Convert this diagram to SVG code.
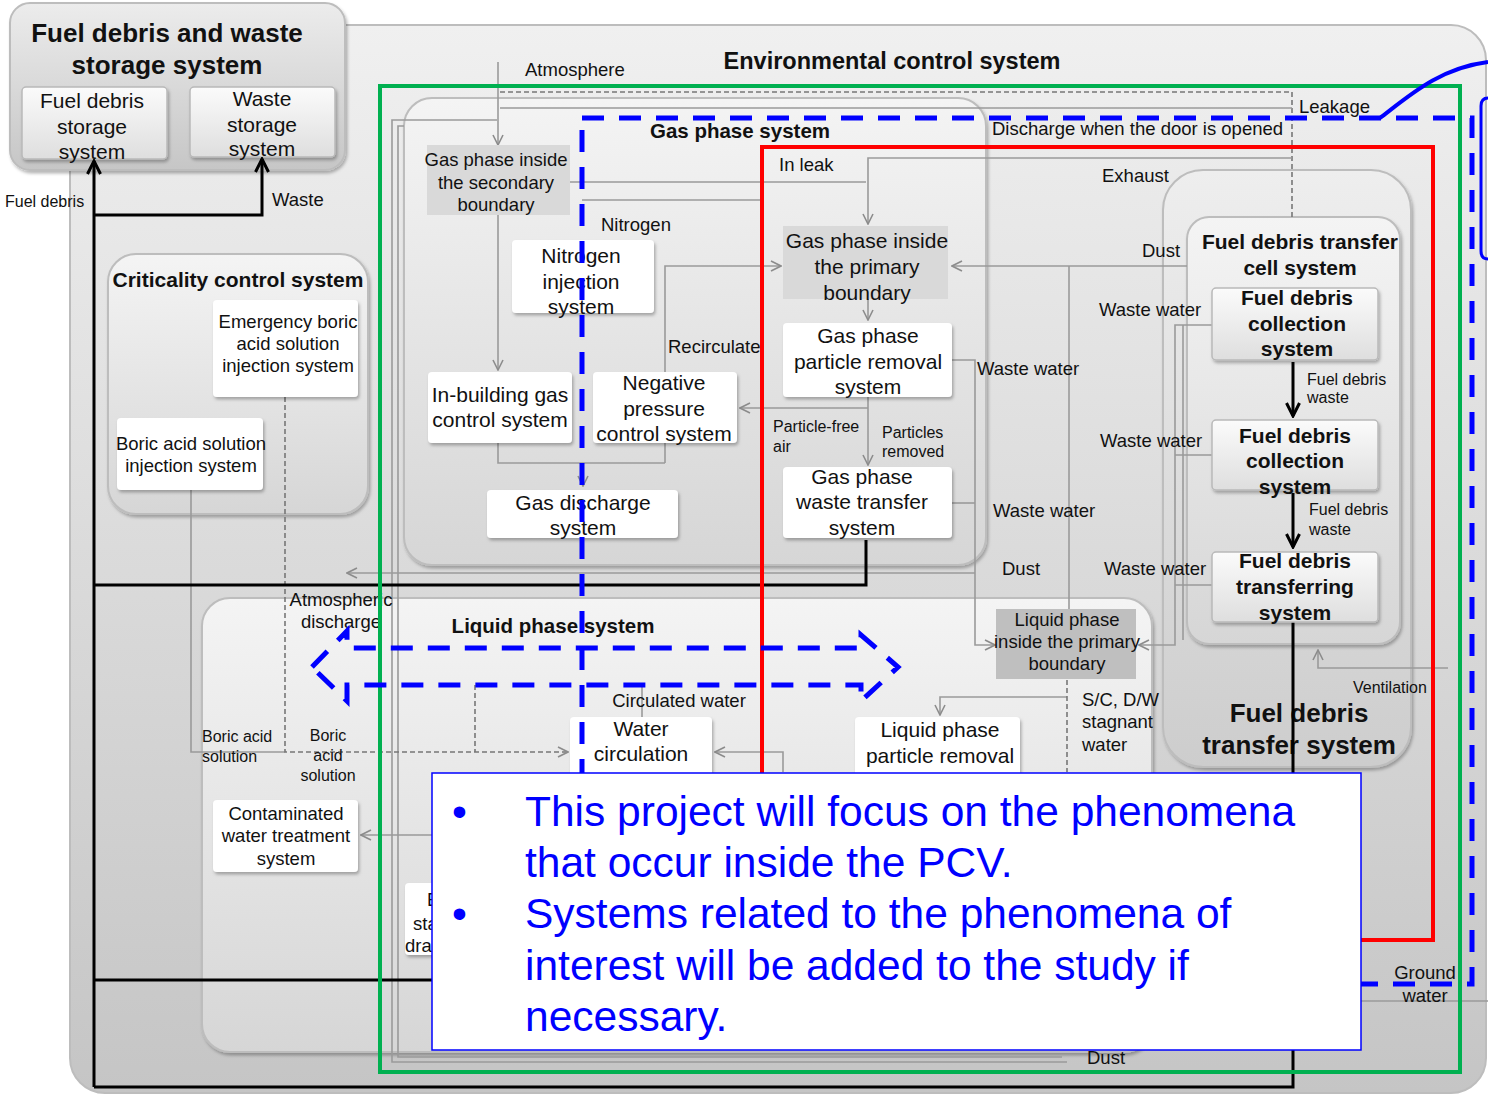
<svg xmlns="http://www.w3.org/2000/svg" width="1488" height="1095" viewBox="0 0 1488 1095">
  <defs>
    <linearGradient id="gEnv" x1="0" y1="0" x2="0" y2="1">
      <stop offset="0" stop-color="#f0f0f0"/>
      <stop offset="1" stop-color="#c5c5c5"/>
    </linearGradient>
    <linearGradient id="gPanel" x1="0" y1="0" x2="0" y2="1">
      <stop offset="0" stop-color="#f4f4f4"/>
      <stop offset="1" stop-color="#d6d6d6"/>
    </linearGradient>
    <linearGradient id="gStore" x1="0" y1="0" x2="0" y2="1">
      <stop offset="0" stop-color="#ececec"/>
      <stop offset="1" stop-color="#c6c6c6"/>
    </linearGradient>
    <linearGradient id="gTransfer" x1="0" y1="0" x2="0" y2="1">
      <stop offset="0" stop-color="#eeeeee"/>
      <stop offset="1" stop-color="#cdcdcd"/>
    </linearGradient>
    <linearGradient id="gSub" x1="0" y1="0" x2="0" y2="1">
      <stop offset="0" stop-color="#fbfbfb"/>
      <stop offset="1" stop-color="#dedede"/>
    </linearGradient>
    <filter id="shadow" x="-10%" y="-10%" width="125%" height="130%">
      <feDropShadow dx="1.5" dy="2.5" stdDeviation="1.8" flood-color="#000" flood-opacity="0.28"/>
    </filter>
    <marker id="ag" viewBox="0 0 12 12" refX="11" refY="6" markerWidth="12" markerHeight="12" markerUnits="userSpaceOnUse" orient="auto">
      <path d="M1,1 L11,6 L1,11" fill="none" stroke="#8c8c8c" stroke-width="1.6"/>
    </marker>
    <marker id="ak" viewBox="0 0 16 16" refX="14" refY="8" markerWidth="16" markerHeight="16" markerUnits="userSpaceOnUse" orient="auto">
      <path d="M1,1.5 L14,8 L1,14.5" fill="none" stroke="#000" stroke-width="3"/>
    </marker>
    <style>
      text { font-family: "Liberation Sans", Arial, sans-serif; fill: #111; }
      .m { text-anchor: middle; }
      .s16 { font-size: 16px; }
      .s18 { font-size: 18.5px; }
      .s21 { font-size: 21px; }
      .b20 { font-size: 20.5px; font-weight: bold; }
      .b21 { font-size: 21px; font-weight: bold; }
      .b23 { font-size: 23.5px; font-weight: bold; }
      .b26 { font-size: 26px; font-weight: bold; }
      .panel { stroke: #bdbdbd; stroke-width: 2; filter: url(#shadow); }
      .node { fill: #ffffff; filter: url(#shadow); }
      .sub { fill: url(#gSub); stroke: #b9b9b9; stroke-width: 1.5; filter: url(#shadow); }
      .grey { fill: #d9d9d9; }
      .ln { fill: none; stroke: #9a9a9a; stroke-width: 1.6; }
      .dl { fill: none; stroke: #777; stroke-width: 1.6; stroke-dasharray: 5 3; }
      .bk { fill: none; stroke: #000; stroke-width: 3; }
      .blue { fill: none; stroke: #0000ff; stroke-width: 5; stroke-dasharray: 22 15; }
      .note { font-size: 42.5px; fill: #0000ff; }
    </style>
  </defs>

  <!-- environmental control system area -->
  <g id="environmental-control-system">
    <rect x="70" y="25" width="1416" height="1068" rx="35" fill="url(#gEnv)" stroke="#bdbdbd" stroke-width="2"/>
    <text class="b23 m" x="892" y="69">Environmental control system</text>
  </g>

  <!-- storage system panel -->
  <g id="fuel-debris-and-waste-storage-system">
    <rect class="panel" x="10" y="3" width="335" height="167" rx="20" fill="url(#gStore)"/>
    <text class="b26 m" x="167" y="42">Fuel debris and waste</text>
    <text class="b26 m" x="167" y="74">storage system</text>
  </g>
  <g id="fuel-debris-storage-system">
    <rect class="sub" x="22" y="87" width="145" height="72" rx="4"/>
    <text class="s21 m" x="92" y="108">Fuel debris</text>
    <text class="s21 m" x="92" y="134">storage</text>
    <text class="s21 m" x="92" y="159">system</text>
  </g>
  <g id="waste-storage-system">
    <rect class="sub" x="190" y="87" width="145" height="70" rx="4"/>
    <text class="s21 m" x="262" y="106">Waste</text>
    <text class="s21 m" x="262" y="132">storage</text>
    <text class="s21 m" x="262" y="156">system</text>
  </g>

  <!-- enclosing panels -->
  <g id="gas-phase-system">
    <rect class="panel" x="404" y="98" width="582" height="467" rx="28" fill="url(#gPanel)"/>
    <text class="b20 m" x="740" y="138">Gas phase system</text>
  </g>
  <g id="liquid-phase-system">
    <rect class="panel" x="202" y="598" width="950" height="454" rx="28" fill="url(#gPanel)"/>
    <text class="b20 m" x="553" y="633">Liquid phase system</text>
  </g>
  <g id="criticality-control-system">
    <rect class="panel" x="108" y="254" width="260" height="260" rx="28" fill="url(#gPanel)"/>
    <text class="b21 m" x="238" y="287">Criticality control system</text>
  </g>
  <g id="fuel-debris-transfer-system">
    <rect class="panel" x="1163" y="170" width="248" height="597" rx="40" fill="url(#gTransfer)"/>
    <text class="b26 m" x="1299" y="722">Fuel debris</text>
    <text class="b26 m" x="1299" y="754">transfer system</text>
  </g>
  <g id="fuel-debris-transfer-cell-system">
    <rect class="panel" x="1187" y="217" width="213" height="427" rx="22" fill="url(#gPanel)"/>
    <text class="b21 m" x="1300" y="249">Fuel debris transfer</text>
    <text class="b21 m" x="1300" y="275">cell system</text>
  </g>

  <!-- connectors -->
  <g id="connectors">
    <!-- thin grey flows -->
    <path class="ln" d="M498,62 V145" marker-end="url(#ag)"/>
    <path class="dl" d="M500,92 H1292 V217"/>
    <path class="ln" d="M500,108 H1292"/>
    <path class="ln" d="M497,120 H392 V1062 H1067"/>
    <path class="ln" d="M404,126 H398 V1057 H1062"/>
    <path class="ln" d="M1292,158 H868 V224" marker-end="url(#ag)"/>
    <path class="ln" d="M570,182 H866"/>
    <path class="ln" d="M582,200 H760"/>
    <path class="ln" d="M498,215 V370" marker-end="url(#ag)"/>
    <path class="ln" d="M665,463 V266 H781" marker-end="url(#ag)"/>
    <path class="ln" d="M498,443 V463 H665"/>
    <path class="ln" d="M583,463 V486" marker-end="url(#ag)"/>
    <path class="ln" d="M868,299 V320" marker-end="url(#ag)"/>
    <path class="ln" d="M868,397 V465" marker-end="url(#ag)"/>
    <path class="ln" d="M868,408 H740" marker-end="url(#ag)"/>
    <path class="ln" d="M1187,266 H952" marker-end="url(#ag)"/>
    <path class="ln" d="M1069,266 V645"/>
    <path class="ln" d="M951,360 H975 V645 H995" marker-end="url(#ag)"/>
    <path class="ln" d="M951,503 H975"/>
    <path class="ln" d="M975,573 H347" marker-end="url(#ag)"/>
    <path class="ln" d="M1212,325 H1175 V645 H1139" marker-end="url(#ag)"/>
    <path class="ln" d="M1212,455 H1175"/>
    <path class="ln" d="M1212,585 H1175"/>
    <path class="ln" d="M1183,325 V640"/>
    <path class="ln" d="M1448,668 H1318 V650" marker-end="url(#ag)"/>
    <path class="ln" d="M1067,697 H940 V715" marker-end="url(#ag)"/>
    <path class="dl" d="M1067,680 V772"/>
    <path class="ln" d="M783,772 V752 H715" marker-end="url(#ag)"/>
    <path class="ln" d="M642,685 V717"/>
    <path class="ln" d="M191,490 V752 H285"/>
    <path class="dl" d="M285,397 V752 H568" marker-end="url(#ag)"/>
    <path class="dl" d="M475,685 V752"/>
    <path class="ln" d="M432,835 H361" marker-end="url(#ag)"/>
    <path class="ln" d="M1360,1001 H1488"/>

    <!-- solid black fuel debris / waste routes -->
    <path class="bk" d="M94,1087 V161" marker-end="url(#ak)"/>
    <path class="bk" d="M94,215 H262 V159" marker-end="url(#ak)"/>
    <path class="bk" d="M94,585 H866 V540"/>
    <path class="bk" d="M94,980 H434"/>
    <path class="bk" d="M1293,622 V1087 H94"/>
    <path class="bk" d="M1293,362 V416" marker-end="url(#ak)"/>
    <path class="bk" d="M1293,493 V547" marker-end="url(#ak)"/>
  </g>

  <!-- gas phase nodes -->
  <g id="gas-secondary-boundary">
    <rect class="grey" x="427" y="145" width="143" height="70"/>
    <text class="s18 m" x="496" y="166">Gas phase inside</text>
    <text class="s18 m" x="496" y="189">the secondary</text>
    <text class="s18 m" x="496" y="211">boundary</text>
  </g>
  <g id="nitrogen-injection-system">
    <rect class="node" x="512" y="240" width="142" height="73" rx="4"/>
    <text class="s21 m" x="581" y="263">Nitrogen</text>
    <text class="s21 m" x="581" y="289">injection</text>
    <text class="s21 m" x="581" y="314">system</text>
  </g>
  <g id="in-building-gas-control-system">
    <rect class="node" x="428" y="372" width="144" height="71" rx="4"/>
    <text class="s21 m" x="500" y="402">In-building gas</text>
    <text class="s21 m" x="500" y="427">control system</text>
  </g>
  <g id="negative-pressure-control-system">
    <rect class="node" x="593" y="372" width="144" height="71" rx="4"/>
    <text class="s21 m" x="664" y="390">Negative</text>
    <text class="s21 m" x="664" y="416">pressure</text>
    <text class="s21 m" x="664" y="441">control system</text>
  </g>
  <g id="gas-discharge-system">
    <rect class="node" x="487" y="490" width="191" height="48" rx="4"/>
    <text class="s21 m" x="583" y="510">Gas discharge</text>
    <text class="s21 m" x="583" y="535">system</text>
  </g>
  <g id="gas-primary-boundary">
    <rect class="grey" x="783" y="226" width="165" height="73"/>
    <text class="s21 m" x="867" y="248">Gas phase inside</text>
    <text class="s21 m" x="867" y="274">the primary</text>
    <text class="s21 m" x="867" y="300">boundary</text>
  </g>
  <g id="gas-particle-removal-system">
    <rect class="node" x="783" y="323" width="169" height="74" rx="4"/>
    <text class="s21 m" x="868" y="343">Gas phase</text>
    <text class="s21 m" x="868" y="369">particle removal</text>
    <text class="s21 m" x="868" y="394">system</text>
  </g>
  <g id="gas-waste-transfer-system">
    <rect class="node" x="783" y="467" width="169" height="71" rx="4"/>
    <text class="s21 m" x="862" y="484">Gas phase</text>
    <text class="s21 m" x="862" y="509">waste transfer</text>
    <text class="s21 m" x="862" y="535">system</text>
  </g>

  <!-- criticality nodes -->
  <g id="emergency-boric-acid-injection">
    <rect class="node" x="213" y="300" width="145" height="97" rx="4"/>
    <text class="s18 m" x="288" y="328">Emergency boric</text>
    <text class="s18 m" x="288" y="350">acid solution</text>
    <text class="s18 m" x="288" y="372">injection system</text>
  </g>
  <g id="boric-acid-injection">
    <rect class="node" x="117" y="418" width="146" height="72" rx="4"/>
    <text class="s18 m" x="191" y="450">Boric acid solution</text>
    <text class="s18 m" x="191" y="472">injection system</text>
  </g>

  <!-- fuel debris cell nodes -->
  <g id="fuel-debris-collection-1">
    <rect class="sub" x="1212" y="288" width="166" height="72" rx="4"/>
    <text class="b21 m" x="1297" y="305">Fuel debris</text>
    <text class="b21 m" x="1297" y="331">collection</text>
    <text class="b21 m" x="1297" y="356">system</text>
  </g>
  <g id="fuel-debris-collection-2">
    <rect class="sub" x="1212" y="420" width="166" height="70" rx="4"/>
    <text class="b21 m" x="1295" y="443">Fuel debris</text>
    <text class="b21 m" x="1295" y="468">collection</text>
    <text class="b21 m" x="1295" y="494">system</text>
  </g>
  <g id="fuel-debris-transferring-system">
    <rect class="sub" x="1212" y="552" width="166" height="70" rx="4"/>
    <text class="b21 m" x="1295" y="568">Fuel debris</text>
    <text class="b21 m" x="1295" y="594">transferring</text>
    <text class="b21 m" x="1295" y="620">system</text>
  </g>

  <!-- liquid phase nodes -->
  <g id="liquid-primary-boundary">
    <rect x="996" y="609" width="140" height="70" fill="#bfbfbf"/>
    <text class="s18 m" x="1067" y="626">Liquid phase</text>
    <text class="s18 m" x="1067" y="648">inside the primary</text>
    <text class="s18 m" x="1067" y="670">boundary</text>
  </g>
  <g id="water-circulation">
    <rect class="node" x="570" y="717" width="142" height="60" rx="4"/>
    <text class="s21 m" x="641" y="736">Water</text>
    <text class="s21 m" x="641" y="761">circulation</text>
  </g>
  <g id="liquid-particle-removal">
    <rect class="node" x="855" y="717" width="165" height="60" rx="4"/>
    <text class="s21 m" x="940" y="737">Liquid phase</text>
    <text class="s21 m" x="940" y="763">particle removal</text>
  </g>
  <g id="contaminated-water-treatment-system">
    <rect class="node" x="213" y="800" width="145" height="72" rx="4"/>
    <text class="s18 m" x="286" y="820">Contaminated</text>
    <text class="s18 m" x="286" y="842">water treatment</text>
    <text class="s18 m" x="286" y="865">system</text>
  </g>
  <g id="storage-drain-node">
    <rect class="node" x="405" y="883" width="60" height="72" rx="4"/>
    <text class="s18" x="427" y="906">E</text>
    <text class="s18" x="413" y="930">sta</text>
    <text class="s18" x="405" y="952">dra</text>
  </g>

  <!-- flow labels -->
  <g id="labels">
    <text class="s16" x="5" y="207">Fuel debris</text>
    <text class="s18" x="272" y="206">Waste</text>
    <text class="s18" x="525" y="76">Atmosphere</text>
    <text class="s18" x="992" y="135">Discharge when the door is opened</text>
    <text class="s18" x="1299" y="113">Leakage</text>
    <text class="s18" x="779" y="171">In leak</text>
    <text class="s18" x="1102" y="182">Exhaust</text>
    <text class="s18" x="1142" y="257">Dust</text>
    <text class="s18" x="601" y="231">Nitrogen</text>
    <text class="s18" x="668" y="353">Recirculate</text>
    <text class="s16" x="773" y="432">Particle-free</text>
    <text class="s16" x="773" y="452">air</text>
    <text class="s16" x="882" y="438">Particles</text>
    <text class="s16" x="882" y="457">removed</text>
    <text class="s18" x="977" y="375">Waste water</text>
    <text class="s18" x="993" y="517">Waste water</text>
    <text class="s18" x="1002" y="575">Dust</text>
    <text class="s18" x="1099" y="316">Waste water</text>
    <text class="s18" x="1100" y="447">Waste water</text>
    <text class="s18" x="1104" y="575">Waste water</text>
    <text class="s16" x="1307" y="385">Fuel debris</text>
    <text class="s16" x="1307" y="403">waste</text>
    <text class="s16" x="1309" y="515">Fuel debris</text>
    <text class="s16" x="1309" y="535">waste</text>
    <text class="s16" x="1353" y="693">Ventilation</text>
    <text class="s18 m" x="341" y="606">Atmospheric</text>
    <text class="s18 m" x="341" y="628">discharge</text>
    <text class="s18 m" x="679" y="707">Circulated water</text>
    <text class="s18" x="1082" y="706">S/C, D/W</text>
    <text class="s18" x="1082" y="728">stagnant</text>
    <text class="s18" x="1082" y="751">water</text>
    <text class="s16" x="202" y="742">Boric acid</text>
    <text class="s16" x="202" y="762">solution</text>
    <text class="s16 m" x="328" y="741">Boric</text>
    <text class="s16 m" x="328" y="761">acid</text>
    <text class="s16 m" x="328" y="781">solution</text>
    <text class="s18 m" x="1425" y="979">Ground</text>
    <text class="s18 m" x="1425" y="1002">water</text>
    <text class="s18" x="1087" y="1064">Dust</text>
  </g>

  <!-- scope boundaries -->
  <g id="boundaries">
    <rect x="380" y="86" width="1080" height="986" fill="none" stroke="#00b050" stroke-width="4"/>
    <rect x="762" y="147" width="671" height="793" fill="none" stroke="#ff0000" stroke-width="4"/>
    <rect class="blue" x="582" y="118" width="890" height="866"/>
    <path d="M1380,118 C1410,95 1440,68 1488,62" fill="none" stroke="#0000ff" stroke-width="4"/>
    <path d="M1488,98 Q1481,98 1481,106 V251 Q1481,259 1488,259" fill="none" stroke="#0000ff" stroke-width="3"/>
    <polygon class="blue" fill="#ffffff" points="312,667 347,631 347,648 861,648 861,635 898,667 861,701 861,685 347,685 347,701"/>
  </g>

  <!-- project scope note -->
  <g id="scope-note">
    <rect x="432" y="773" width="929" height="277" fill="#ffffff" stroke="#0000ff" stroke-width="1.5"/>
    <text class="note" x="452" y="826">•</text>
    <text class="note" x="525" y="826">This project will focus on the phenomena</text>
    <text class="note" x="525" y="877">that occur inside the PCV.</text>
    <text class="note" x="452" y="928">•</text>
    <text class="note" x="525" y="928">Systems related to the phenomena of</text>
    <text class="note" x="525" y="980">interest will be added to the study if</text>
    <text class="note" x="525" y="1031">necessary.</text>
  </g>
</svg>
